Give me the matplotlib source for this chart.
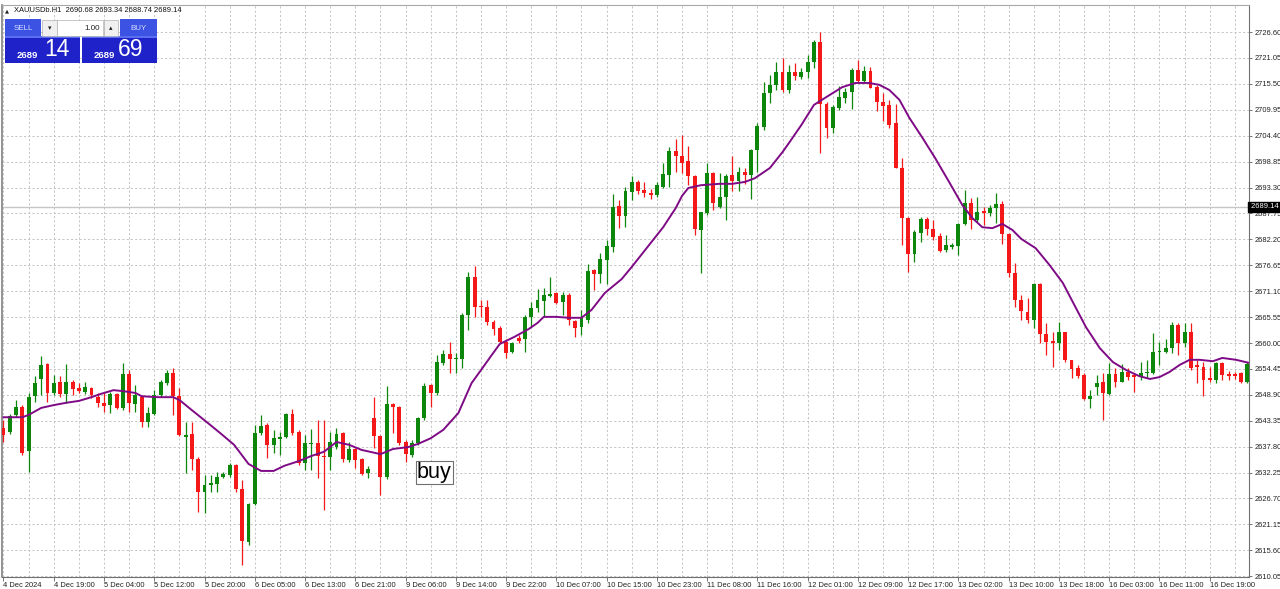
import matplotlib
matplotlib.use("Agg")
import matplotlib.pyplot as plt
from matplotlib.patches import Rectangle
from matplotlib.transforms import blended_transform_factory
import numpy as np

plt.rcParams['font.family'] = ['Liberation Sans', 'DejaVu Sans']

# ---------------- data (XAUUSDb, H1) ----------------
opens = [2641.8, 2640.9, 2644.6, 2646.3, 2636.9, 2648.6, 2652.3, 2655.5, 2649.3, 2651.6,
         2649.1, 2651.6, 2650.4, 2649.5, 2650.4, 2648.4, 2647.1, 2646.7, 2649.1, 2646.1,
         2653.4, 2646.9, 2648.4, 2643.1, 2644.8, 2648.9, 2651.4, 2653.6, 2648.6, 2639.9,
         2640.5, 2635.2, 2628.1, 2629.6, 2629.8, 2631.3, 2631.7, 2633.9, 2628.7, 2617.4,
         2625.5, 2640.7, 2642.4, 2638.2, 2639.4, 2639.9, 2644.8, 2640.9, 2634.3, 2638.4,
         2638.6, 2635.8, 2635.6, 2637.7, 2640.7, 2634.9, 2637.3, 2635.2, 2632.2, 2643.9,
         2640.1, 2631.3, 2646.9, 2646.3, 2638.8, 2636.0, 2638.6, 2643.9, 2651.0, 2649.3,
         2655.7, 2657.6, 2656.6, 2656.6, 2666.0, 2674.1, 2667.9, 2667.7, 2664.5, 2663.2,
         2660.2, 2658.1, 2661.1, 2660.9, 2665.6, 2667.5, 2669.0, 2670.1, 2670.7, 2668.8,
         2670.3, 2664.7, 2663.4, 2664.9, 2675.6, 2674.8, 2677.8, 2680.6, 2689.4, 2687.2,
         2692.3, 2694.5, 2692.8, 2692.1, 2691.7, 2693.4, 2696.0, 2701.1, 2700.1, 2699.0,
         2695.8, 2684.2, 2687.8, 2696.4, 2689.1, 2691.3, 2696.0, 2694.7, 2696.6, 2696.0,
         2701.3, 2706.3, 2713.5, 2715.3, 2718.0, 2714.2, 2718.0, 2717.0, 2718.0, 2720.2,
         2724.5, 2711.2, 2706.1, 2710.3, 2712.5, 2713.8, 2718.5, 2716.1, 2718.3, 2714.8,
         2711.6, 2711.0, 2707.1, 2697.5, 2686.8, 2679.1, 2683.6, 2686.6, 2684.4, 2682.9,
         2679.9, 2680.6, 2680.8, 2685.5, 2690.0, 2686.3, 2688.3, 2687.8, 2688.9, 2689.8,
         2683.4, 2675.0, 2669.2, 2666.6, 2664.9, 2672.6, 2661.9, 2660.4, 2660.0, 2662.4,
         2656.4, 2654.6, 2653.1, 2648.0, 2650.6, 2651.6, 2649.1, 2653.4, 2651.6, 2653.8,
         2653.1, 2652.7, 2653.6, 2653.6, 2658.1, 2658.1, 2658.9, 2663.9, 2660.0, 2662.4,
         2655.3, 2654.9, 2652.5, 2652.1, 2655.7, 2653.4, 2653.4, 2653.6, 2651.6]

highs = [2643.5, 2644.8, 2647.8, 2646.7, 2649.3, 2652.9, 2657.2, 2655.7, 2653.2, 2652.9,
         2655.5, 2652.1, 2651.4, 2651.6, 2650.6, 2649.3, 2649.3, 2649.5, 2649.3, 2655.7,
         2654.2, 2651.0, 2648.9, 2646.3, 2649.9, 2652.1, 2654.2, 2654.6, 2650.4, 2643.1,
         2643.1, 2635.6, 2631.7, 2631.7, 2632.4, 2632.4, 2634.3, 2634.1, 2630.7, 2625.7,
         2642.4, 2644.6, 2642.9, 2641.4, 2640.9, 2645.0, 2645.9, 2641.4, 2640.3, 2641.6,
         2643.5, 2643.5, 2640.9, 2641.8, 2640.9, 2638.8, 2637.5, 2635.4, 2633.7, 2648.4,
         2640.3, 2650.8, 2647.1, 2646.5, 2639.2, 2639.2, 2644.2, 2651.4, 2651.2, 2657.4,
         2658.5, 2660.2, 2657.9, 2666.4, 2675.2, 2676.5, 2669.2, 2669.2, 2664.9, 2663.6,
         2660.9, 2660.2, 2661.7, 2666.0, 2668.8, 2671.6, 2671.8, 2674.1, 2670.9, 2670.9,
         2670.7, 2664.9, 2667.1, 2676.9, 2675.9, 2679.3, 2682.1, 2691.9, 2690.6, 2693.4,
         2695.8, 2694.9, 2694.5, 2693.0, 2694.5, 2698.6, 2702.0, 2703.7, 2704.5, 2702.2,
         2696.0, 2688.1, 2698.6, 2696.6, 2696.4, 2696.2, 2700.1, 2697.7, 2697.5, 2701.6,
         2707.1, 2715.9, 2717.4, 2720.2, 2721.0, 2719.6, 2720.0, 2718.9, 2721.7, 2724.9,
         2726.6, 2711.6, 2711.0, 2715.0, 2714.6, 2718.9, 2720.6, 2719.3, 2719.1, 2715.3,
         2713.5, 2712.1, 2711.2, 2699.6, 2687.0, 2684.2, 2687.0, 2687.0, 2686.3, 2683.6,
         2683.1, 2681.4, 2685.7, 2692.8, 2691.1, 2691.3, 2689.1, 2689.5, 2692.1, 2690.4,
         2683.6, 2677.1, 2670.3, 2669.6, 2672.8, 2672.8, 2664.3, 2662.4, 2664.5, 2662.4,
         2656.4, 2655.3, 2653.6, 2649.9, 2653.1, 2653.6, 2655.7, 2654.6, 2655.5, 2654.6,
         2653.6, 2655.9, 2656.4, 2662.1, 2660.2, 2660.9, 2664.5, 2664.3, 2664.3, 2664.3,
         2656.4, 2655.9, 2654.9, 2655.9, 2655.9, 2654.0, 2653.8, 2653.8, 2655.9]

lows = [2638.8, 2640.5, 2644.2, 2636.0, 2632.4, 2647.4, 2648.9, 2647.4, 2648.9, 2648.4,
        2647.2, 2648.9, 2649.3, 2649.1, 2648.2, 2646.3, 2645.2, 2645.0, 2645.9, 2645.7,
        2645.2, 2645.2, 2642.0, 2642.0, 2644.6, 2648.4, 2651.0, 2644.6, 2640.1, 2632.2,
        2632.8, 2623.8, 2623.6, 2628.1, 2628.1, 2631.1, 2631.3, 2628.1, 2612.5, 2616.7,
        2625.3, 2640.3, 2635.4, 2636.4, 2636.0, 2639.6, 2640.3, 2633.9, 2632.8, 2632.8,
        2631.1, 2624.2, 2632.8, 2637.3, 2634.5, 2634.5, 2633.2, 2631.7, 2631.1, 2637.5,
        2627.4, 2630.9, 2640.7, 2638.2, 2634.5, 2635.6, 2638.2, 2643.5, 2646.3, 2648.9,
        2655.3, 2653.6, 2653.6, 2654.6, 2662.8, 2665.6, 2665.6, 2663.9, 2661.7, 2660.0,
        2656.8, 2657.9, 2660.0, 2658.1, 2663.4, 2666.7, 2665.6, 2669.9, 2668.4, 2666.0,
        2663.9, 2661.3, 2661.7, 2664.3, 2671.4, 2672.9, 2672.6, 2679.5, 2684.6, 2684.8,
        2690.6, 2691.9, 2691.3, 2690.8, 2691.3, 2693.2, 2693.4, 2696.6, 2696.4, 2693.8,
        2683.1, 2675.0, 2687.4, 2688.5, 2688.9, 2686.3, 2692.6, 2692.6, 2694.1, 2690.8,
        2696.6, 2705.6, 2711.4, 2714.2, 2713.8, 2713.5, 2716.3, 2716.6, 2716.8, 2718.9,
        2700.7, 2703.9, 2705.0, 2709.9, 2711.4, 2710.1, 2715.9, 2715.7, 2714.6, 2709.7,
        2707.5, 2706.0, 2697.5, 2681.0, 2675.2, 2677.4, 2681.6, 2683.1, 2682.1, 2679.5,
        2679.5, 2680.1, 2678.8, 2685.3, 2684.4, 2685.9, 2685.3, 2687.2, 2685.7, 2681.2,
        2674.1, 2667.7, 2664.9, 2664.3, 2663.2, 2660.0, 2657.4, 2654.9, 2658.5, 2655.9,
        2652.5, 2652.5, 2647.8, 2646.1, 2648.9, 2643.5, 2648.9, 2650.6, 2651.6, 2652.1,
        2649.5, 2652.1, 2652.5, 2653.4, 2655.3, 2657.9, 2657.9, 2657.4, 2659.1, 2654.2,
        2651.4, 2648.6, 2651.6, 2651.4, 2652.1, 2652.1, 2652.3, 2651.4, 2651.4]

closes = [2640.3, 2644.4, 2646.3, 2636.4, 2648.4, 2651.4, 2655.3, 2649.3, 2651.4, 2649.1,
          2651.6, 2650.2, 2649.7, 2650.6, 2648.9, 2647.1, 2646.5, 2649.1, 2646.1, 2653.4,
          2647.1, 2648.9, 2643.1, 2645.0, 2648.9, 2651.6, 2653.6, 2648.6, 2640.3, 2640.3,
          2635.2, 2628.1, 2629.6, 2630.0, 2631.3, 2631.9, 2633.9, 2628.7, 2617.6, 2625.5,
          2640.7, 2642.2, 2638.2, 2639.7, 2639.9, 2644.8, 2640.7, 2634.3, 2638.6, 2638.6,
          2635.8, 2635.6, 2638.8, 2640.5, 2635.2, 2637.3, 2634.9, 2631.9, 2633.0, 2640.1,
          2631.3, 2646.9, 2646.3, 2638.6, 2636.2, 2638.6, 2643.9, 2650.8, 2649.3, 2655.9,
          2657.6, 2656.6, 2656.8, 2666.0, 2674.1, 2667.7, 2667.7, 2664.5, 2663.0, 2660.2,
          2657.9, 2660.0, 2660.4, 2665.6, 2667.5, 2669.2, 2670.3, 2670.5, 2668.6, 2670.3,
          2664.9, 2663.2, 2665.4, 2675.4, 2674.8, 2678.0, 2680.8, 2689.1, 2687.2, 2692.6,
          2694.5, 2692.6, 2692.1, 2691.7, 2693.8, 2696.2, 2701.1, 2700.1, 2698.6, 2695.8,
          2684.4, 2688.1, 2696.4, 2690.0, 2691.3, 2695.8, 2694.7, 2696.6, 2696.0, 2701.3,
          2706.5, 2713.5, 2715.3, 2718.0, 2714.2, 2718.0, 2717.2, 2718.0, 2720.2, 2724.5,
          2711.2, 2706.1, 2710.6, 2712.7, 2713.8, 2718.5, 2716.1, 2718.3, 2714.6, 2711.6,
          2710.8, 2706.7, 2697.5, 2686.8, 2679.1, 2683.8, 2686.6, 2684.4, 2682.7, 2679.7,
          2681.0, 2681.0, 2685.5, 2690.0, 2686.3, 2688.1, 2687.8, 2688.9, 2689.8, 2683.4,
          2675.0, 2669.2, 2666.9, 2664.9, 2672.6, 2661.9, 2660.2, 2660.0, 2662.4, 2656.4,
          2654.4, 2652.9, 2648.0, 2648.6, 2651.4, 2649.3, 2653.4, 2651.6, 2653.8, 2652.7,
          2652.7, 2653.6, 2653.8, 2658.1, 2658.3, 2658.9, 2663.9, 2660.0, 2662.4, 2654.6,
          2654.9, 2652.1, 2652.1, 2655.7, 2653.1, 2652.9, 2652.9, 2651.6, 2655.5]

# moving average (bar index, price)
ma_bars = [0, 3, 4, 6, 8, 10, 12, 14, 15.5, 17.5, 19, 21, 22, 24.5, 27, 28, 30, 32.5, 34.5, 36.7,
           39, 41, 43, 44.7, 47, 49, 51, 53, 55, 57, 60, 62, 64.4, 66, 68, 70, 72.4, 74.5, 76, 77.7,
           79, 81.3, 83.6, 85, 86, 88, 90, 92, 93.6, 95.7, 98.4, 100, 103, 105, 107, 108, 109, 111,
           114, 116, 118, 119.6, 122, 124, 125, 127, 129, 131, 133.5, 135.6, 137.8, 139.4, 141,
           142.6, 144.2, 146.3, 148.3, 150.6, 152.6, 154.2, 155.8, 157.4, 159, 160.6, 162, 164.3,
           166.5, 168.6, 170.7, 172.3, 174.5, 176.6, 178.7, 180.8, 182.5, 184, 185.6, 187.2, 188.8,
           190.4, 192.5, 194, 196.2, 198.4]
ma_values = [2644.1, 2644.1, 2644.6, 2646.1, 2646.7, 2647.2, 2647.6, 2648.4, 2649.1, 2649.9,
             2649.7, 2649.3, 2648.6, 2648.4, 2648.4, 2647.8, 2645.6, 2642.9, 2640.7, 2638.2,
             2634.1, 2632.6, 2632.6, 2633.7, 2634.7, 2635.8, 2636.7, 2638.8, 2638.2, 2637.1,
             2636.2, 2637.3, 2637.7, 2638.4, 2639.6, 2641.4, 2645.0, 2651.4, 2654.2, 2657.4,
             2659.8, 2661.3, 2663.0, 2664.3, 2665.6, 2665.6, 2665.4, 2665.4, 2667.1, 2670.7,
             2673.7, 2676.3, 2681.4, 2684.8, 2688.9, 2691.5, 2693.2, 2693.8, 2694.1, 2694.1,
             2694.5, 2695.3, 2697.5, 2700.9, 2702.8, 2706.7, 2711.0, 2712.7, 2714.8, 2715.7,
             2715.7, 2715.3, 2714.2, 2712.1, 2708.2, 2703.9, 2699.6, 2694.3, 2689.6, 2686.8,
             2684.8, 2684.6, 2685.5, 2684.2, 2682.3, 2680.3, 2676.7, 2672.9, 2667.5, 2663.4,
             2658.9, 2655.9, 2654.2, 2652.9, 2652.3, 2652.7, 2653.8, 2655.3, 2656.4, 2656.4,
             2656.1, 2656.8, 2656.4, 2655.7]

x_labels = ['4 Dec 2024', '4 Dec 19:00', '5 Dec 04:00', '5 Dec 12:00', '5 Dec 20:00',
            '6 Dec 05:00', '6 Dec 13:00', '6 Dec 21:00', '9 Dec 06:00', '9 Dec 14:00',
            '9 Dec 22:00', '10 Dec 07:00', '10 Dec 15:00', '10 Dec 23:00', '11 Dec 08:00',
            '11 Dec 16:00', '12 Dec 01:00', '12 Dec 09:00', '12 Dec 17:00', '13 Dec 02:00',
            '13 Dec 10:00', '13 Dec 18:00', '16 Dec 03:00', '16 Dec 11:00', '16 Dec 19:00']
x_label_bars = [0, 8, 16, 24, 32, 40, 48, 56, 64, 72, 80, 88, 96, 104, 112, 120, 128, 136,
                144, 152, 160, 168, 176, 184, 192]
y_ticks = [2610.05, 2615.60, 2621.15, 2626.70, 2632.25, 2637.80, 2643.35, 2648.90, 2654.45,
           2660.00, 2665.55, 2671.10, 2676.65, 2682.20, 2687.75, 2693.30, 2698.85, 2704.40,
           2709.95, 2715.50, 2721.05, 2726.60]

bid_price = 2689.14
header = 'XAUUSDb.H1  2690.68 2693.34 2688.74 2689.14'
sell_big, sell_small = '14', '2689'
buy_big, buy_small = '69', '2689'
lot = '1.00'

# ---------------- figure ----------------
W, H = 1280, 589
fig = plt.figure(figsize=(W / 100, H / 100), dpi=100)
fig.patch.set_facecolor('white')
ax = fig.add_axes([1.5 / W, 1 - 577 / H, 1247.5 / W, 572 / H])
ax.set_facecolor('white')

GREEN = '#0c870c'
RED = '#f41818'
o = np.array(opens); c = np.array(closes); h = np.array(highs); l = np.array(lows)
idx = np.arange(len(o))
cols = np.where(c >= o, GREEN, RED)

ax.axhline(bid_price, color='#c6c6c6', lw=1.0, zorder=1)
ax.vlines(idx, l, h, colors=cols, lw=0.9, zorder=3)
body_lo = np.minimum(o, c)
body_h = np.maximum(np.abs(c - o), 0.25)
ax.bar(idx, body_h, bottom=body_lo, width=0.62, color=cols, lw=0, zorder=4)
ax.plot(ma_bars, ma_values, color='#7e0a85', lw=1.4, zorder=5)

ax.set_xlim(-0.318, 198.25)
ax.set_ylim(2609.88, 2732.40)

# grid
ax.set_xticks(x_label_bars)
ax.set_xticklabels(x_labels)
ax.set_xticks(np.arange(0, len(o), 4), minor=True)
ax.grid(True, which='both', axis='x', color='#c4c4c4', ls=(0, (2.2, 2.2)), lw=0.7, zorder=0)
ax.set_yticks(y_ticks)
ax.set_yticklabels([f'{v:.2f}' for v in y_ticks])
ax.grid(True, which='major', axis='y', color='#c4c4c4', ls=(0, (2.2, 2.2)), lw=0.7, zorder=0)
ax.set_axisbelow(True)

ax.yaxis.tick_right()
ax.tick_params(axis='y', which='major', direction='out', length=2.5, width=0.6, pad=1.5,
               labelsize=5.4, color='#606060', labelcolor='#202020')
ax.tick_params(axis='x', which='major', direction='out', length=3, width=0.6, pad=0.3,
               labelsize=5.4, color='#606060', labelcolor='#202020')
ax.tick_params(axis='x', which='minor', length=0)
for t in ax.get_xticklabels():
    t.set_ha('left')
ax.spines['top'].set_color('#a8a8a8'); ax.spines['top'].set_linewidth(0.8)
ax.spines['left'].set_color('#808080'); ax.spines['left'].set_linewidth(1.2)
for s in ['right', 'bottom']:
    ax.spines[s].set_color('#707070'); ax.spines[s].set_linewidth(0.8)

# bid price label
tr = blended_transform_factory(ax.transAxes, ax.transData)
ax.text(1.0, bid_price, ' ' + f'{bid_price:.2f}', transform=tr, ha='left', va='center',
        fontsize=5.4, color='white', clip_on=False, zorder=10,
        bbox=dict(boxstyle='square,pad=0.15', fc='black', ec='black'))

# "buy" annotation
ax.text(65.8, 2634.5, 'buy', fontsize=15.5, ha='left', va='top', color='black', zorder=8,
        bbox=dict(boxstyle='square,pad=0.06', fc='white', ec='#707070', lw=0.8))

# ---------------- header + one-click panel (figure pixels) ----------------
def rect(x0, y0, x1, y1, fc, ec='none', lw=0.0):
    fig.add_artist(Rectangle((x0 / W, 1 - y1 / H), (x1 - x0) / W, (y1 - y0) / H,
                             transform=fig.transFigure, fc=fc, ec=ec, lw=lw, zorder=5))

def ftext(x, y, s, **kw):
    fig.text(x / W, 1 - y / H, s, zorder=6, **kw)

ftext(5, 11, '▲', fontsize=3.8, va='center', ha='left', family=['DejaVu Sans'], color='#202020')
ftext(14, 11, header, fontsize=5.4, va='center', ha='left', color='#101010')

DARK = '#1f22c8'
HEAD = '#3b52e2'
rect(5, 37, 80, 63, DARK)
rect(82, 37, 157, 63, DARK)
rect(5, 19, 41, 37, HEAD)
rect(120, 19, 157, 37, HEAD)
rect(5, 36.5, 80, 37.5, '#5a6ef0')
rect(82, 36.5, 157, 37.5, '#5a6ef0')
rect(42, 19.5, 56.5, 36, '#f0f0f0', ec='#b0b0b0', lw=0.5)
rect(57, 19.5, 103, 36, 'white', ec='#b0b0b0', lw=0.5)
rect(104, 19.5, 118, 36, '#f0f0f0', ec='#b0b0b0', lw=0.5)

ftext(23, 28, 'SELL', fontsize=5.8, ha='center', va='center', color='#d6e0ff')
ftext(138.5, 28, 'BUY', fontsize=5.8, ha='center', va='center', color='#d6e0ff')
ftext(49.5, 28, '▾', fontsize=5, ha='center', va='center', color='#202020', family=['DejaVu Sans'])
ftext(111, 28, '▴', fontsize=5, ha='center', va='center', color='#202020', family=['DejaVu Sans'])
ftext(100, 28, lot, fontsize=5.8, ha='right', va='center', color='#202020')
ftext(17, 55, sell_small, fontsize=6.8, ha='left', va='center', color='white', fontweight='bold')
ftext(44, 50, sell_big, fontsize=16.5, ha='left', va='center', color='white')
ftext(94, 55, buy_small, fontsize=6.8, ha='left', va='center', color='white', fontweight='bold')
ftext(118, 50, buy_big, fontsize=16.5, ha='left', va='center', color='white')

fig.savefig('out.png', dpi=100, facecolor='white')
